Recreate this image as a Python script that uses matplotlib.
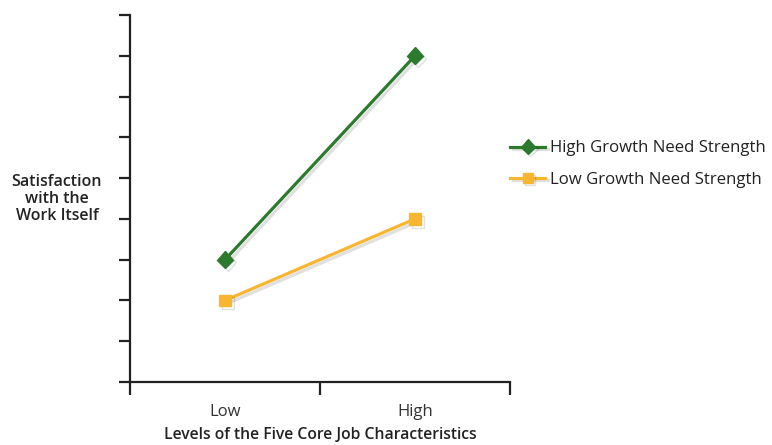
import matplotlib
matplotlib.use("Agg")
from matplotlib import pyplot as plt
from matplotlib import patheffects as pe

# Data
levels = ["Low", "High"]
level_pos = [0.5, 1.5]
high_gns = [3, 8]
low_gns = [2, 4]

plt.rcParams['font.family'] = ['Open Sans', 'DejaVu Sans']

fig = plt.figure(figsize=(7.72, 4.45), dpi=100)
ax = fig.add_axes([130/772, 1-382/445, 380/772, 367/445])

shadow = [pe.SimpleLineShadow(offset=(2, -2), alpha=0.12, shadow_color="k"), pe.Normal()]

## Linhas das duas séries
ax.plot(level_pos, high_gns, color="#2b7a2e", linewidth=2.3, marker="D", markersize=8.5,
        label="High Growth Need Strength", path_effects=shadow)
ax.plot(level_pos, low_gns, color="#f8b530", linewidth=2.3, marker="s", markersize=8.5,
        label="Low Growth Need Strength", path_effects=shadow)

ax.set_xlim(0, 2)
ax.set_ylim(0, 9)

## Eixos: só esquerda e baixo
for s in ["top", "right"]:
    ax.spines[s].set_visible(False)
for s in ["left", "bottom"]:
    ax.spines[s].set_linewidth(1.6)
    ax.spines[s].set_color("#222222")

ax.set_yticks(range(0, 10))
ax.set_yticklabels([])
ax.tick_params(axis="y", direction="out", length=8, width=1.6, color="#222222")

ax.set_xticks([0, 1, 2])
ax.set_xticklabels([])
ax.tick_params(axis="x", which="major", direction="out", length=9, width=1.6, color="#222222")
ax.set_xticks(level_pos, minor=True)
ax.set_xticklabels(levels, minor=True)
ax.tick_params(axis="x", which="minor", length=0, pad=16, labelsize=12, labelcolor="#333333")

ax.set_xlabel("Levels of the Five Core Job Characteristics", fontsize=11.3,
              fontweight="semibold", color="#222222", labelpad=5)

fig.text(57/772, 1-199/445, "Satisfaction\nwith the\nWork Itself", ha="center", va="center",
         fontsize=11.5, fontweight="semibold", color="#222222", linespacing=1.05)

ax.legend(loc="center left", bbox_to_anchor=(510/772, 1-164/445), bbox_transform=fig.transFigure,
          frameon=False, fontsize=12.1, handlelength=2.1, handletextpad=0.3, labelspacing=0.9,
          labelcolor="#222222", markerscale=0.85, borderaxespad=0, borderpad=0)

fig.savefig("out.png", dpi=100)
